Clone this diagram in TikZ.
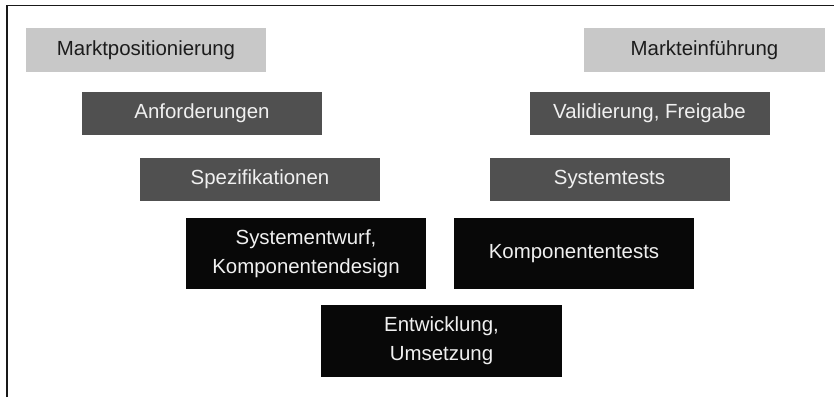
\documentclass[tikz,border=0pt]{standalone}
\usepackage{fontspec}
\setmainfont{Liberation Sans}
\definecolor{lightbox}{HTML}{C8C8C8}
\definecolor{midbox}{HTML}{505050}
\definecolor{darkbox}{HTML}{080808}
\definecolor{darktext}{HTML}{1C1C1C}
\definecolor{lighttext}{HTML}{F0F0F0}
\tikzset{
  phase/.style={rectangle, inner sep=0pt, minimum width=240bp, align=center,
    font=\fontsize{20.5}{29}\selectfont},
  outer/.style={phase, fill=lightbox, text=darktext, minimum height=44bp},
  inner/.style={phase, fill=midbox, text=lighttext, minimum height=43bp},
  core/.style={phase, fill=darkbox, text=lighttext, minimum height=71bp},
  frame/.style={draw=black!90, line width=1.5bp}
}
\begin{document}
\begin{tikzpicture}[x=1bp,y=-1bp]
  \useasboundingbox (0,0) rectangle (834,397);
  % open frame: top and left edge only
  \coordinate (fbl) at (7,397);
  \coordinate (ftl) at (7,5.5);
  \coordinate (ftr) at (834,5.5);
  \draw[frame] (fbl) -- (ftl) -- (ftr);

  % left branch of the V
  \node[outer] (mp) at (146,50) {Marktpositionierung};
  \node[inner] (an) at (202,113.5) {Anforderungen};
  \node[inner] (sp) at (260,179.5) {Spezifikationen};
  \node[core]  (se) at (306,253.5) {Systementwurf,\\Komponentendesign};

  % bottom of the V
  \node[core, minimum width=241bp, minimum height=72bp] (eu) at (441.5,341) {Entwicklung,\\Umsetzung};

  % right branch of the V
  \node[core]  (kt) at (574,253.5) {Komponententests};
  \node[inner] (st) at (609.5,179.5) {Systemtests};
  \node[inner] (vf) at (649.5,113.5) {Validierung, Freigabe};
  \node[outer, minimum width=241bp] (me) at (704.5,50) {Markteinführung};
\end{tikzpicture}
\end{document}
